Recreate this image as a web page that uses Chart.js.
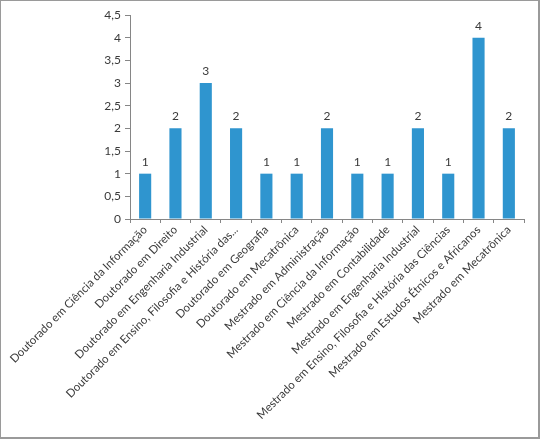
<!DOCTYPE html>
<html>
<head>
<meta charset="utf-8">
<script src="https://cdn.jsdelivr.net/npm/chart.js@4/dist/chart.umd.min.js"></script>
<style>
  html, body { margin: 0; padding: 0; background: #fff; }
  #wrap {
    width: 540px; height: 439px; box-sizing: border-box;
    border: 1px solid #9a9a9a; border-right-width: 2px; border-bottom-width: 2px;
    position: relative;
  }
  canvas { display: block; }
</style>
</head>
<body>
<div id="wrap"><canvas id="chart" width="537" height="436"></canvas></div>
<script>
const categories = [
  'Doutorado em Ciência da Informação',
  'Doutorado em Direito',
  'Doutorado em Engenharia Industrial',
  'Doutorado em Ensino, Filosofia e História das...',
  'Doutorado em Geografia',
  'Doutorado em Mecatrônica',
  'Mestrado em Administração',
  'Mestrado em Ciência da Informação',
  'Mestrado em Contabilidade',
  'Mestrado em Engenharia Industrial',
  'Mestrado em Ensino, Filosofia e História das Ciências',
  'Mestrado em Estudos Étnicos e Africanos',
  'Mestrado em Mecatrônica'
];
const values = [1, 2, 3, 2, 1, 1, 2, 1, 1, 2, 1, 4, 2];
const yMax = 4.5;
const yStep = 0.5;

const textColor = '#3a3a3a';
const axisColor = '#868686';
const fontFamily = 'Lato, "Open Sans", sans-serif';

// value labels above each bar
const valueLabels = {
  id: 'valueLabels',
  afterDatasetsDraw(chart) {
    const ctx = chart.ctx;
    const meta = chart.getDatasetMeta(0);
    ctx.save();
    ctx.fillStyle = textColor;
    ctx.font = '12px ' + fontFamily;
    ctx.textAlign = 'center';
    ctx.textBaseline = 'bottom';
    meta.data.forEach((bar, i) => {
      ctx.fillText(String(values[i]), bar.x, bar.y - 6);
    });
    ctx.restore();
  }
};

new Chart(document.getElementById('chart'), {
  type: 'bar',
  data: {
    labels: categories,
    datasets: [{
      data: values,
      backgroundColor: '#2f95cf',
      barPercentage: 0.4,
      categoryPercentage: 1
    }]
  },
  options: {
    responsive: false,
    animation: false,
    layout: { padding: { left: 0, top: 14, right: 14, bottom: 0 } },
    plugins: {
      legend: { display: false },
      tooltip: { enabled: false }
    },
    scales: {
      x: {
        offset: true,
        grid: {
          offset: true,
          drawOnChartArea: false,
          drawTicks: true,
          tickLength: 4,
          color: axisColor
        },
        border: { display: true, color: axisColor },
        ticks: {
          color: textColor,
          font: { family: fontFamily, size: 11.5 },
          minRotation: 45,
          maxRotation: 45,
          autoSkip: false,
          padding: 0
        },
        afterFit(scale) {
          scale.height = 218;
          scale.paddingLeft = 0;
          scale.paddingRight = 0;
        }
      },
      y: {
        min: 0,
        max: yMax,
        grid: {
          drawOnChartArea: false,
          drawTicks: true,
          tickLength: 5,
          color: axisColor
        },
        border: { display: true, color: axisColor },
        ticks: {
          stepSize: yStep,
          color: textColor,
          font: { family: fontFamily, size: 12 },
          padding: 4,
          callback: v => String(v).replace('.', ',')
        },
        afterFit(scale) {
          scale.width = 129;
          scale.paddingTop = 0;
          scale.paddingBottom = 0;
        }
      }
    }
  },
  plugins: [valueLabels]
});
</script>
</body>
</html>
